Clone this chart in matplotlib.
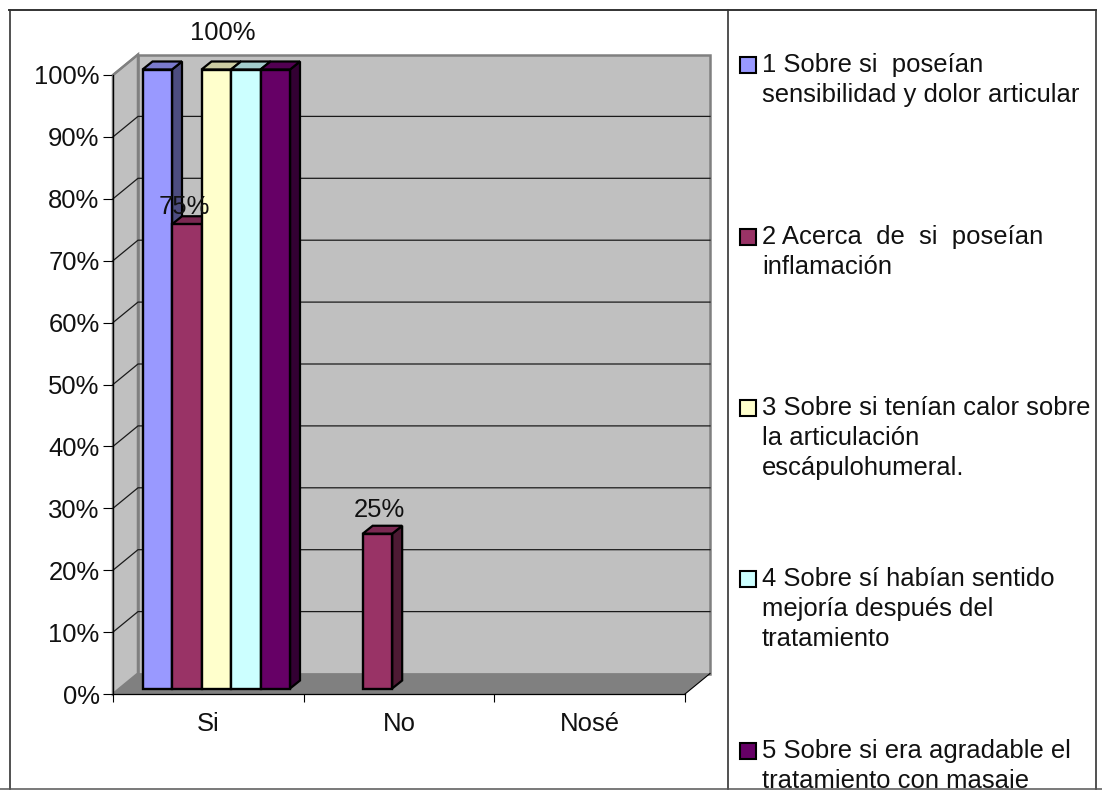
import matplotlib
matplotlib.use("Agg")
import matplotlib.pyplot as plt
from matplotlib.patches import Polygon, Rectangle
from matplotlib.transforms import Bbox

plt.rcParams['font.family'] = ['Liberation Sans', 'DejaVu Sans']

categories = ["Si", "No", "Nosé"]
yticks = list(range(0, 101, 10))

# one list per question, values in percent for Si / No / Nosé
serie1 = [100, 0, 0]
serie2 = [75, 25, 0]
serie3 = [100, 0, 0]
serie4 = [100, 0, 0]
serie5 = [100, 0, 0]
series = [serie1, serie2, serie3, serie4, serie5]

colors = ["#9999FF", "#993366", "#FFFFCC", "#CCFFFF", "#660066"]
top_colors = ["#7A7ACC", "#7A2952", "#CCCCA3", "#A3CCCC", "#520052"]
side_colors = ["#4D4D80", "#4D1A33", "#808066", "#668080", "#330033"]

legend_lines = [
    ["1 Sobre si  poseían", "sensibilidad y dolor articular"],
    ["2 Acerca  de  si  poseían", "inflamación"],
    ["3 Sobre si tenían calor sobre", "la articulación", "escápulohumeral."],
    ["4 Sobre sí habían sentido", "mejoría después del", "tratamiento"],
    ["5 Sobre si era agradable el", "tratamiento con masaje"],
]

W, H = 1102, 790
FS = 18.45

fig = plt.figure(figsize=(W / 100, H / 100), dpi=100, facecolor="white")

# full size axes in pixels for the frame and the legend column
bg = fig.add_axes([0, 0, 1, 1])
bg.set_xlim(0, W)
bg.set_ylim(H, 0)
bg.axis("off")
for x in [9.5, 727.5, 1096]:
    bg.plot([x, x], [9.5, 789], color="#222222", lw=1.1, clip_on=False)
bg.plot([9, 1096], [9.5, 9.5], color="#333333", lw=1.4)
bg.plot([0, W], [788.8, 788.8], color="#555555", lw=1.1, zorder=5)

# legend entries, last line runs into the bottom border
text_clip = Bbox([[0, H - 788], [W, H]])
marker_y = [57, 229, 400, 571, 743]
for i, lines in enumerate(legend_lines):
    bg.add_patch(Rectangle((739.5, marker_y[i]), 16, 16, facecolor=colors[i], edgecolor="black", lw=1.5))
    for j, line in enumerate(lines):
        t = bg.text(762, marker_y[i] + 15 + j * 30, line, fontsize=FS, color="#111111", va="baseline", ha="left")
        t.set_clip_box(text_clip)
        t.set_clip_on(True)

# chart axes sit on the front plane of the 3d box
ax = fig.add_axes([113 / W, (H - 694) / H, 572 / W, 619 / H])
ax.set_xlim(0, 3)
ax.set_ylim(0, 100)
ax.patch.set_visible(False)

px_x = 3 / 572
px_y = 100 / 619
wall_dx = 25 * px_x
wall_dy = 20.5 * px_y

# back wall, side wall, floor
ax.add_patch(Rectangle((wall_dx, wall_dy), 3, 100, facecolor="#C0C0C0", edgecolor="#808080", lw=1.8, clip_on=False, zorder=1))
ax.add_patch(Polygon([(0, 0), (0, 100), (wall_dx, 100 + wall_dy), (wall_dx, wall_dy)], facecolor="#C0C0C0", edgecolor="#808080", lw=1.8, clip_on=False, zorder=1))
ax.add_patch(Polygon([(0, 0), (3, 0), (3 + wall_dx, wall_dy), (wall_dx, wall_dy)], facecolor="#808080", edgecolor="none", clip_on=False, zorder=1.5))
ax.plot([3, 3 + wall_dx], [0, wall_dy], color="black", lw=0.8, clip_on=False, zorder=1.6)

for v in yticks[1:-1]:
    ax.plot([0, wall_dx, 3 + wall_dx], [v, v + wall_dy, v + wall_dy], color="#1A1A1A", lw=0.9, clip_on=False, zorder=2)
ax.plot([0, wall_dx], [100, 100 + wall_dy], color="#808080", lw=1.4, clip_on=False, zorder=2)

# bars, drawn left to right so each front face covers the previous side
bar_w = 29.5 * px_x
start = 29.5 * px_x
base = 5.5 * px_y
depth_x = 10 * px_x
depth_y = 8 * px_y
z = 3
for c in range(len(categories)):
    for s, vals in enumerate(series):
        v = vals[c]
        if v == 0:
            continue
        x0 = c + start + s * bar_w
        x1 = x0 + bar_w
        y1 = base + v
        ax.add_patch(Polygon([(x1, base), (x1, y1), (x1 + depth_x, y1 + depth_y), (x1 + depth_x, base + depth_y)],
                             facecolor=side_colors[s], edgecolor="black", lw=1.6, clip_on=False, zorder=z))
        ax.add_patch(Polygon([(x0, y1), (x1, y1), (x1 + depth_x, y1 + depth_y), (x0 + depth_x, y1 + depth_y)],
                             facecolor=top_colors[s], edgecolor="black", lw=1.6, clip_on=False, zorder=z))
        ax.add_patch(Rectangle((x0, base), bar_w, v, facecolor=colors[s], edgecolor="black", lw=1.7, clip_on=False, zorder=z + 0.5))
        z += 1

# value labels above the bars: (serie, category, x shift px, y shift px)
labels = [(2, 0, 6, 37), (1, 0, -2, 17), (1, 1, 2, 24)]
for s, c, sx, sy in labels:
    v = series[s][c]
    ax.text(c + start + (s + 0.5) * bar_w + sx * px_x, base + v + sy * px_y, f"{v}%",
            fontsize=FS, color="#111111", ha="center", va="center", zorder=30, clip_on=False)

ax.set_yticks(yticks)
ax.set_yticklabels([f"{v}%" for v in yticks], fontsize=FS, color="#111111")
ax.set_xticks([0, 1, 2, 3])
ax.set_xticklabels([])
ax.set_xticks([0.5, 1.5, 2.5], minor=True)
ax.set_xticklabels(categories, minor=True, fontsize=FS, color="#111111")
ax.tick_params(axis="y", length=7.2, width=0.8, pad=2.5, color="black")
ax.tick_params(axis="x", which="major", length=6, width=0.8, color="black")
ax.tick_params(axis="x", which="minor", length=0, pad=13)
for name in ["top", "right"]:
    ax.spines[name].set_visible(False)
for name in ["left", "bottom"]:
    ax.spines[name].set_linewidth(0.9)
    ax.spines[name].set_zorder(2.5)

fig.savefig("out.png", dpi=100, facecolor="white")
